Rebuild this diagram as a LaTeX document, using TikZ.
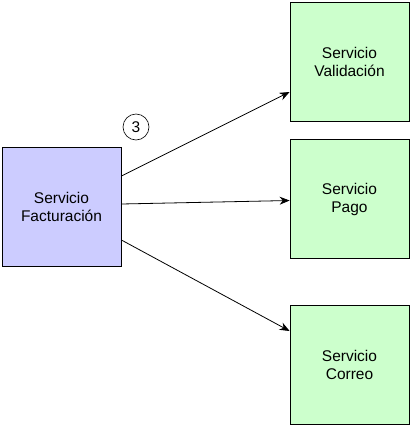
\documentclass[tikz,border=0pt]{standalone}
\usepackage{fontspec}
\setmainfont{Liberation Sans}
\usetikzlibrary{arrows.meta,positioning}
\definecolor{FactClr}{RGB}{204,204,255}
\definecolor{ServClr}{RGB}{204,255,204}

\begin{document}
\begin{tikzpicture}[x=1pt,y=-1pt,
  servbox/.style={draw=black,line width=.8pt,minimum width=119pt,minimum height=119pt,
    align=center,font=\fontsize{15.5}{18}\selectfont},
  call/.style={draw=black,line width=.8pt,-{Stealth[length=10pt,width=8pt]}}]
\useasboundingbox (0,0) rectangle (411,426);

\node[servbox,fill=FactClr] (fact) at (61.5,207) {Servicio\\Facturación};
\node[servbox,fill=ServClr] (valid) at (349.5,61.5) {Servicio\\Validación};
\node[servbox,fill=ServClr] (pago) at (349.5,199) {Servicio\\Pago};
\node[servbox,fill=ServClr] (correo) at (349.5,365) {Servicio\\Correo};

\node[draw,circle,line width=.6pt,minimum size=26pt,inner sep=0pt,
  font=\fontsize{15.5}{18}\selectfont] (paso) at (136,127) {3};

\draw[call] ([yshift=31pt]fact.east) -- ([yshift=-30.5pt]valid.west);
\draw[call] ([yshift=3pt]fact.east) -- ([yshift=-1.5pt]pago.west);
\draw[call] ([yshift=-33pt]fact.east) -- ([yshift=34pt]correo.west);

\end{tikzpicture}
\end{document}
